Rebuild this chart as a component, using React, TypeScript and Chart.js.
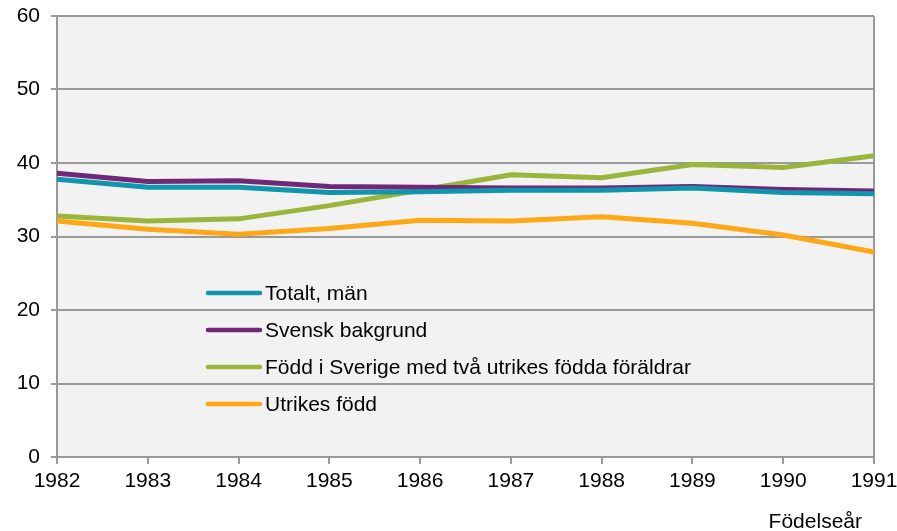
import React, { useEffect, useRef } from "react";
import { Chart, registerables } from "chart.js";

Chart.register(...registerables);

const years = ["1982", "1983", "1984", "1985", "1986", "1987", "1988", "1989", "1990", "1991"];
const totaltMan = [37.8, 36.7, 36.7, 36.0, 36.1, 36.3, 36.3, 36.6, 36.0, 35.8];
const svenskBakgrund = [38.6, 37.5, 37.6, 36.8, 36.7, 36.6, 36.6, 36.8, 36.4, 36.2];
const foddSverige = [32.8, 32.1, 32.4, 34.2, 36.3, 38.4, 38.0, 39.8, 39.4, 41.0];
const utrikesFodd = [32.1, 31.0, 30.3, 31.1, 32.2, 32.1, 32.7, 31.8, 30.2, 27.9];
const seriesLabels = [
  "Totalt, män",
  "Svensk bakgrund",
  "Född i Sverige med två utrikes födda föräldrar",
  "Utrikes född",
];
const seriesColors = ["#0f95ad", "#712777", "#9bb53b", "#fda814"];
const xTitle = "Födelseår";

const FONT = "'Liberation Sans', Arial, sans-serif";
const FSIZE = 21;
const GRID = "#999999";

const customLegend = {
  id: "customLegend",
  afterDraw(chart: any) {
    const ctx = chart.ctx;
    ctx.save();
    chart.data.datasets.forEach((ds: any, i: number) => {
      const y = 293 + 37 * i;
      ctx.strokeStyle = ds.borderColor;
      ctx.lineWidth = 4.5;
      ctx.lineCap = "round";
      ctx.beginPath();
      ctx.moveTo(208, y);
      ctx.lineTo(260, y);
      ctx.stroke();
      ctx.fillStyle = "#000";
      ctx.font = `${FSIZE}px ${FONT}`;
      ctx.textBaseline = "middle";
      ctx.textAlign = "left";
      ctx.fillText(ds.label, 265, y + 1);
    });
    ctx.font = `${FSIZE}px ${FONT}`;
    ctx.textAlign = "right";
    ctx.textBaseline = "middle";
    ctx.fillStyle = "#000";
    ctx.fillText(xTitle, 862, 522);
    ctx.restore();
  },
};

const bgPlugin = {
  id: "plotBg",
  beforeDraw(chart: any) {
    const { ctx, chartArea } = chart;
    ctx.save();
    ctx.fillStyle = "#f2f2f2";
    ctx.fillRect(chartArea.left, chartArea.top, chartArea.right - chartArea.left, chartArea.bottom - chartArea.top);
    ctx.restore();
  },
};

export default function App() {
  const ref = useRef<HTMLCanvasElement>(null);
  useEffect(() => {
    document.body.style.margin = "0";
    const all = [totaltMan, svenskBakgrund, foddSverige, utrikesFodd];
    const chart = new Chart(ref.current!, {
      type: "line",
      data: {
        labels: years,
        datasets: all.map((d, i) => ({
          label: seriesLabels[i],
          data: d,
          borderColor: seriesColors[i],
          backgroundColor: seriesColors[i],
          borderWidth: 5,
          pointRadius: 0,
          tension: 0,
          fill: false,
        })),
      },
      options: {
        animation: false,
        responsive: false,
        maintainAspectRatio: false,
        layout: { padding: { top: 16, right: 23, left: 0, bottom: 0 } },
        plugins: { legend: { display: false }, tooltip: { enabled: false }, title: { display: false } },
        scales: {
          x: {
            offset: false,
            afterFit: (s: any) => {
              s.height = 74;
              s.paddingLeft = 0;
              s.paddingRight = 0;
            },
            border: { display: false },
            grid: {
              color: (c: any) => (c.index === 0 || c.index === years.length - 1 ? GRID : "transparent"),
              tickColor: GRID,
              lineWidth: 2,
              tickLength: 7,
            },
            ticks: { color: "#000", font: { family: FONT, size: FSIZE }, padding: 5, maxRotation: 0, autoSkip: false },
          },
          y: {
            min: 0,
            max: 60,
            afterFit: (s: any) => {
              s.width = 57;
              s.paddingTop = 0;
              s.paddingBottom = 0;
            },
            border: { display: false },
            grid: { color: GRID, tickColor: GRID, lineWidth: 2, tickLength: 6 },
            ticks: { stepSize: 10, color: "#000", font: { family: FONT, size: FSIZE }, padding: 11 },
          },
        },
      },
      plugins: [bgPlugin, customLegend],
    });
    return () => chart.destroy();
  }, []);
  return <canvas ref={ref} width={897} height={531} style={{ display: "block" }} />;
}
